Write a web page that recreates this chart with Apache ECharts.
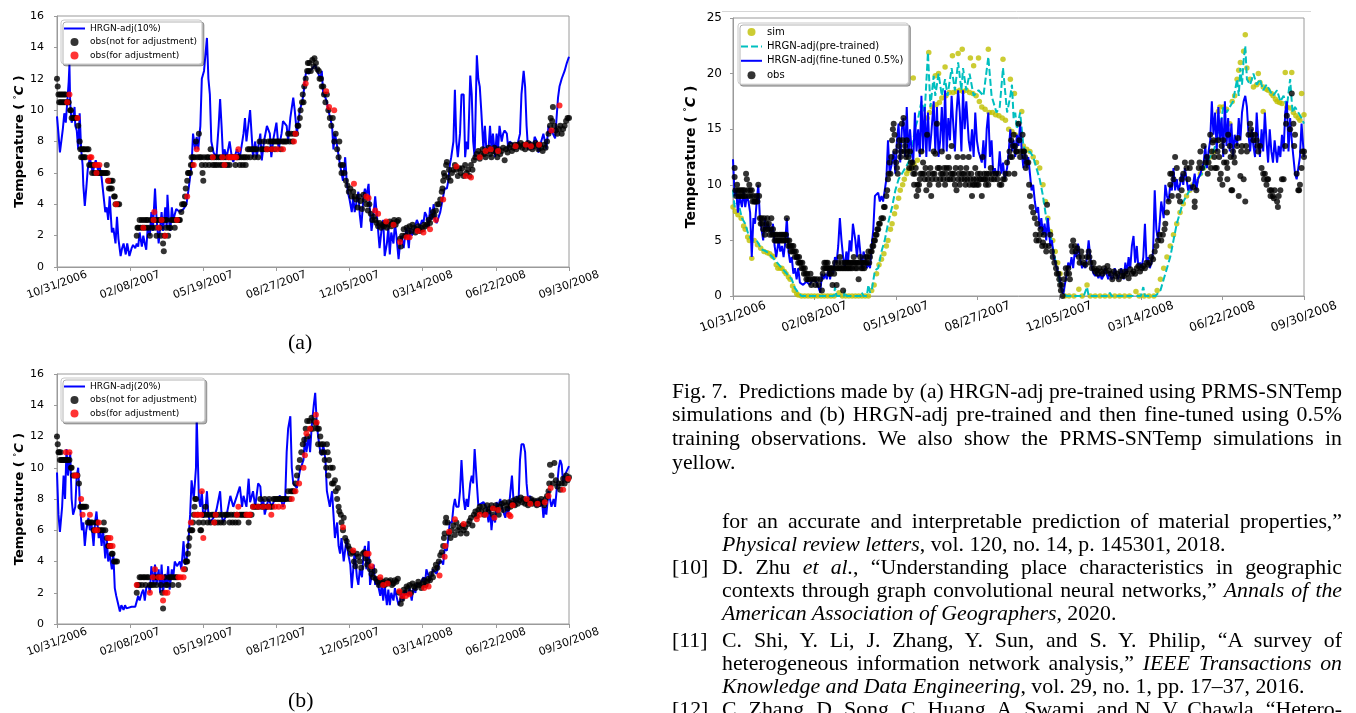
<!DOCTYPE html>
<html><head><meta charset="utf-8">
<script src="https://cdn.jsdelivr.net/npm/echarts/dist/echarts.min.js"></script>
<style>
html,body{margin:0;padding:0;background:#fff;}
body{width:1356px;height:713px;overflow:hidden;position:relative;}
#chart{position:absolute;left:0;top:0;width:1356px;height:713px;}
.ln{position:absolute;font-family:'Liberation Serif','Times New Roman',serif;font-size:21.8px;line-height:23.4px;color:#000;white-space:nowrap;}
.cap{left:672px;}
.ref{left:722px;}
.num{left:672px;}
</style></head><body>
<div id="chart"></div>
<div class="ln" style="left:288px;top:331px;">(a)</div>
<div class="ln" style="left:288px;top:689px;">(b)</div>
<div class="ln cap j" data-w="670" style="top:380px;">Fig. 7.&nbsp; Predictions made by (a) HRGN-adj pre-trained using PRMS-SNTemp</div>
<div class="ln cap j" data-w="670" style="top:403px;">simulations and (b) HRGN-adj pre-trained and then fine-tuned using 0.5%</div>
<div class="ln cap j" data-w="670" style="top:427px;">training observations. We also show the PRMS-SNTemp simulations in</div>
<div class="ln cap" style="top:451px;">yellow.</div>
<div class="ln ref j" data-w="620" style="top:510px;">for an accurate and interpretable prediction of material properties,”</div>
<div class="ln ref" style="top:533px;"><i>Physical review letters</i>, vol. 120, no. 14, p. 145301, 2018.</div>
<div class="ln num" style="top:556px;">[10]</div>
<div class="ln ref j" data-w="620" style="top:556px;">D. Zhu <i>et al.</i>, “Understanding place characteristics in geographic</div>
<div class="ln ref j" data-w="620" style="top:579px;">contexts through graph convolutional neural networks,” <i>Annals of the</i></div>
<div class="ln ref" style="top:602px;"><i>American Association of Geographers</i>, 2020.</div>
<div class="ln num" style="top:629px;">[11]</div>
<div class="ln ref j" data-w="620" style="top:629px;">C. Shi, Y. Li, J. Zhang, Y. Sun, and S. Y. Philip, “A survey of</div>
<div class="ln ref j" data-w="620" style="top:652px;">heterogeneous information network analysis,” <i>IEEE Transactions on</i></div>
<div class="ln ref" style="top:675px;"><i>Knowledge and Data Engineering</i>, vol. 29, no. 1, pp. 17–37, 2016.</div>
<div class="ln num" style="top:698px;">[12]</div>
<div class="ln ref j" data-w="620" style="top:698px;">C. Zhang, D. Song, C. Huang, A. Swami, and N. V. Chawla, “Hetero-</div>
<script>
// justify the paper text lines to their column width
document.querySelectorAll('.j').forEach(el => {
  const target = parseFloat(el.dataset.w);
  const natural = el.getBoundingClientRect().width;
  const spaces = (el.textContent.match(/[ \u00a0]/g) || []).length;
  if (natural < target && spaces) el.style.wordSpacing = ((target - natural) / spaces) + 'px';
  else if (natural > target) { el.style.transformOrigin = '0 0'; el.style.transform = 'scaleX(' + (target / natural) + ')'; }
});
</script>
<script>
// ---------------- data ----------------
const xTickLabels = ['10/31/2006','02/08/2007','05/19/2007','08/27/2007','12/05/2007','03/14/2008','06/22/2008','09/30/2008'];

// (a) HRGN-adj(10%)  [day since 10/31/2006, temperature]
const aLine = [[0,9.6],[2,8.5],[4,7.3],[6,7.4],[8,8.8],[10,9.8],[12,9.2],[14,10.5],[16,11.8],[17,12.9],[18,10.5],[20,9.2],[22,9.5],[24,10.2],[25,9],[27,8.7],[29,7.5],[31,9.8],[33,7.5],[35,6.5],[36,5.2],[38,3.9],[40,5],[42,6.2],[45,7],[47,6.4],[49,6],[51,6.5],[53,6.8],[56,6.2],[58,6.5],[61,5.7],[63,5.8],[66,3.5],[68,3.8],[70,3],[72,4.5],[75,2.2],[77,2.5],[80,1.5],[82,3.2],[84,1.8],[87,0.7],[89,1.2],[91,1.5],[94,0.8],[96,1.5],[99,0.7],[102,1.2],[104,1.4],[107,1.2],[109,1.5],[111,1.3],[113,2.2],[116,1.3],[118,2],[120,1.5],[122,1.1],[124,2.5],[127,2],[129,3.5],[131,2.3],[134,5],[136,3.2],[139,1.5],[141,2.5],[143,3.5],[145,2.3],[148,3.8],[150,2.5],[151,4.6],[153,3],[155,2.3],[157,3.8],[159,3],[163,3.7],[168,3.5],[173,3.7],[177,4],[180,5],[184,6.5],[186,8.5],[189,7.5],[191,8.3],[193,7.5],[196,9],[198,12],[201,12.5],[205,14.6],[207,12],[209,11],[211,8],[214,7.3],[218,7],[221,9],[223,10.7],[225,9],[227,7],[229,7.5],[232,7],[236,8],[239,7],[241,6.7],[246,7.5],[250,7],[255,8.5],[257,9.5],[259,8],[264,10],[266,8.5],[268,7],[271,8],[273,7],[278,8.5],[280,6.8],[283,8],[287,9],[291,8.5],[293,7],[296,8.2],[300,9.2],[303,7.5],[307,8.5],[309,9.3],[314,9],[316,8],[319,9.5],[323,10.8],[325,10],[328,8.5],[332,10],[335,10.5],[337,11],[339,12],[341,12.5],[344,12.3],[346,12.5],[350,12.7],[353,12.9],[355,12.6],[357,12.5],[360,12],[362,12.5],[364,11],[367,10.8],[369,10.5],[371,10],[376,9],[378,7.5],[380,8.5],[382,8],[387,6.5],[389,6.5],[391,5.5],[394,7],[396,5.5],[398,4.7],[400,4.3],[403,3.5],[405,4.5],[407,3.5],[412,4.8],[414,3.3],[416,2.5],[419,4.5],[421,5],[423,4.5],[426,5.3],[428,3.5],[430,2.3],[432,3],[435,4.5],[437,3.5],[439,3.5],[441,1.2],[444,2.5],[446,3],[448,0.7],[451,1.5],[453,2.5],[455,0.8],[457,2.2],[460,1.5],[462,2.8],[464,2],[467,0.5],[469,1.5],[471,2],[474,1.2],[476,2],[478,2.5],[481,1.2],[483,2.5],[485,2],[487,2.2],[492,3],[496,2.5],[499,3],[501,2.8],[503,3.5],[505,3.3],[508,2.5],[510,3.8],[512,3],[515,4],[517,3],[519,2.8],[524,3.5],[528,4.5],[530,5],[533,5],[535,5.5],[537,6.5],[539,7],[542,8],[544,11.3],[546,8],[548,7],[551,8.5],[553,11],[556,11],[558,7],[560,8],[562,7.5],[565,12.2],[567,11],[569,8],[571,7],[574,13.5],[576,12],[578,11.5],[580,10],[583,7.5],[585,9],[587,7.5],[590,7.5],[592,9],[594,7.5],[596,8.5],[599,7],[601,8.5],[603,7.5],[605,9],[608,8],[610,8.5],[612,8.7],[615,8.5],[617,7.5],[619,8],[624,7.8],[628,7.5],[633,8.5],[635,11],[638,12.5],[640,11.5],[642,9],[644,7.5],[647,8],[651,7.5],[653,8.3],[656,8],[658,7.3],[660,7.5],[662,8],[665,8.5],[669,7.5],[672,9],[674,8.5],[676,8.8],[678,8.5],[681,8.2],[683,9.5],[685,10.8],[687,11.5],[690,12],[692,12],[694,12.5],[697,13],[700,13.4]];
const aObs = [[0,12],[1,11.5],[2,11],[3,10.5],[4,11],[5,10.5],[6,11],[7,10.5],[8,11],[9,10.5],[10,11],[11,10.5],[12,11],[13,10.5],[15,10.5],[16,10.5],[18,10],[19,10],[20,9.5],[22,9.5],[23,9.5],[25,9.5],[27,9.5],[29,9],[31,8],[32,7.5],[33,7],[34,7.5],[35,7],[36,7.5],[37,7],[38,7.5],[39,7],[41,7.5],[43,7.5],[44,6.5],[47,6.5],[48,6],[50,6.5],[51,6],[54,6],[55,6],[57,6],[58,6],[60,6],[61,6],[63,6],[65,6],[67,6],[68,6.5],[69,6],[70,5.5],[71,5],[72,5.5],[73,5],[74,5.5],[75,5],[76,5.5],[78,4.5],[79,4.5],[80,4],[83,4],[85,4],[109,2],[110,2.5],[111,2.5],[113,3],[114,2.5],[116,3],[117,2.5],[119,3],[120,2.5],[122,3],[123,2.5],[124,3],[126,2.5],[127,2],[128,3],[130,2.5],[132,3],[134,2.5],[135,3],[136,2],[138,3],[140,3],[141,2.5],[142,2],[144,3],[145,1.5],[146,1],[147,2],[148,3],[149,2.5],[150,3],[152,2],[153,2.5],[155,2.5],[156,3],[158,3],[160,3],[161,2.5],[163,3],[165,3],[167,3],[168,3],[170,3.5],[171,4],[173,4],[174,4],[175,4.5],[176,5],[178,5.5],[179,6],[180,6],[182,6],[183,6.5],[184,7],[185,6.5],[186,7],[188,7],[190,8],[192,7],[194,8.5],[195,7],[197,7],[198,6.5],[199,6],[200,5.5],[201,7],[203,6.5],[205,7],[207,7],[208,6.5],[210,7.5],[211,7],[213,6.5],[215,7],[216,6.5],[218,7],[219,6.5],[221,7],[223,6.5],[224,7],[226,6.5],[228,7],[230,6.5],[231,7],[233,6.5],[235,7],[236,6.5],[238,7],[240,7],[242,7],[244,6.5],[246,7],[247,7],[249,7],[250,6.5],[252,7],[254,6.5],[255,7],[257,7],[258,6.5],[260,7],[261,7.5],[263,7.5],[264,7],[266,7.5],[268,7.5],[270,7],[271,7.5],[273,7.5],[275,7],[277,8],[279,7.5],[281,7.5],[283,8],[285,7.5],[288,7.5],[289,8],[292,8],[293,7.5],[295,8],[297,8],[298,7.5],[300,8],[302,8],[304,8],[306,7.5],[308,8],[310,8],[312,8],[314,8],[316,8.5],[318,8],[320,8.5],[322,8],[324,8.5],[327,8.5],[329,9],[330,9],[332,9.5],[333,10],[335,10.5],[336,11],[337,10.5],[338,11.5],[340,12],[342,12.5],[343,13],[344,12.5],[345,13],[347,12.5],[349,13.2],[351,12.8],[352,13.3],[354,13],[356,12.6],[358,12.5],[359,12],[361,12],[362,11.5],[364,11.5],[365,11],[367,10.5],[369,11],[371,10],[373,9.5],[375,9],[377,9.5],[379,8],[381,8.5],[383,7.5],[385,7],[386,8],[388,6.5],[389,6],[391,6.5],[393,6],[395,5.5],[397,5.2],[399,4.8],[401,5],[403,4.5],[405,4.8],[407,4.5],[409,4.3],[411,3.8],[413,4.5],[415,4.2],[417,3.7],[419,4.6],[421,4.3],[423,4],[425,3.6],[427,4],[429,3.4],[431,3],[433,3.2],[435,3],[437,2.8],[439,2.6],[441,2.8],[443,2.5],[445,2.7],[447,2.6],[449,2.8],[451,2.5],[453,2.7],[455,2.9],[457,2.6],[459,2.8],[461,3],[463,2.7],[465,2.9],[467,3],[469,1.8],[470,1.3],[472,2],[474,2.4],[476,2],[478,2.5],[480,2.2],[482,2.6],[484,2.3],[486,2.7],[488,2.5],[490,2.2],[492,2.4],[494,2.6],[496,2.3],[498,2.5],[500,2.4],[502,2.7],[504,2.6],[506,2.7],[508,3],[510,2.8],[512,3.2],[514,3.5],[516,3.3],[518,3.6],[520,4],[522,4],[524,4.3],[526,4.8],[527,5],[528,5.5],[529,6],[530,5.8],[532,6.5],[533,6.7],[535,5.7],[536,6.2],[538,5.5],[540,6],[542,6.2],[544,6.5],[546,6.2],[548,5.8],[550,6.3],[552,6],[554,6.3],[556,5.8],[558,6.5],[560,6],[562,6.2],[564,5.8],[566,6.5],[568,6.2],[570,6.8],[572,7],[574,7.2],[576,7.4],[578,6.9],[580,7.2],[582,7.5],[584,7.2],[586,7],[588,7.4],[590,7.6],[592,7.2],[594,7],[596,7.4],[598,7.6],[600,7.3],[602,7],[604,7.5],[606,7.2],[608,7.4],[610,7.6],[612,6.8],[614,7.5],[616,7.3],[618,7.6],[620,7.8],[622,7.4],[624,7.6],[626,7.8],[628,7.5],[630,7.8],[632,7.7],[634,7.9],[636,7.6],[638,7.8],[640,7.5],[642,7.8],[644,7.9],[646,7.6],[648,7.8],[650,7.5],[652,7.7],[654,7.9],[656,7.8],[658,7.5],[660,7.8],[662,7.6],[664,7.4],[666,7.8],[668,7.6],[670,8],[672,8.5],[674,9],[675,9.5],[677,9.3],[678,10.2],[680,9],[682,8.7],[684,8.5],[686,8.8],[688,9],[690,8.5],[692,8.8],[694,9],[696,9.3],[698,9.5],[700,9.5]];
const aAdj = [[14,10.5],[17,11],[28,9.5],[45,7],[47,7],[52,6.5],[55,6.5],[58,6.5],[54,6],[70,5.5],[81,4],[118,2.5],[132,3],[133,3.5],[139,2.5],[143,3],[148,2],[164,3],[178,4.5],[187,6.5],[191,7.5],[213,7],[226,7],[229,6.5],[234,7],[237,7],[240,7],[243,7],[245,7],[248,7.5],[287,7.5],[294,7.5],[301,7.5],[309,7.5],[324,8],[326,8.5],[340,11.7],[368,11.2],[372,10.2],[379,10],[406,5.3],[423,4.5],[426,4.4],[435,3.6],[439,3.4],[450,2.9],[460,2.7],[469,1.6],[478,1.9],[482,1.9],[493,2.3],[501,2.2],[510,2.4],[518,3],[528,4.3],[546,6.4],[559,5.8],[566,5.7],[578,7],[586,7.4],[593,7.5],[603,7.4],[627,7.7],[641,7.8],[648,7.7],[659,7.8],[676,8.7],[687,10.3]];

// (b) HRGN-adj(20%)
const bLine = [[0,9.7],[2,7],[4,5.9],[7,7.5],[9,9.5],[11,8],[13,11.2],[15,9.5],[18,11],[20,8],[22,7],[25,7.5],[27,9.5],[29,10],[31,8],[34,6],[36,6.5],[38,5],[40,6],[43,6.8],[45,6],[47,6.5],[50,5],[52,6.5],[54,7.2],[57,5.5],[59,6],[61,5],[63,6],[66,4.2],[68,5.5],[70,4],[72,4.5],[75,3.5],[77,4.5],[79,2.3],[81,1.8],[84,1.2],[86,0.8],[88,1.2],[91,0.9],[93,1.2],[95,1],[97,0.9],[102,1.1],[107,1.1],[109,1.2],[111,1.8],[113,1.5],[116,2],[118,2.2],[120,1.5],[122,2.3],[125,2.5],[127,2],[129,3.7],[132,2.5],[134,3.8],[136,2.5],[139,3.5],[141,2],[143,3.8],[145,2],[148,3.2],[150,2.5],[152,3.7],[154,2.2],[157,3.5],[159,3],[161,4],[164,3.7],[166,3.8],[168,4],[170,3.5],[173,5.3],[175,3.8],[177,4],[180,5.5],[182,7],[184,9.2],[187,8],[189,8],[190,10],[191,13.3],[194,8],[196,7.5],[198,8.5],[200,6.8],[203,7.3],[205,8.5],[207,7],[209,6.5],[214,6.8],[218,7.3],[223,8.5],[225,7],[227,6.5],[232,7],[237,8.2],[241,7.5],[246,8.2],[250,8.8],[253,7.5],[255,8.2],[259,7.5],[262,9.3],[264,7.8],[268,8.5],[271,7.5],[275,9],[278,8.8],[280,7.5],[282,8],[284,7],[289,8],[294,7.5],[296,7.8],[300,8],[305,8.2],[309,7.5],[312,8],[314,11],[316,12.5],[319,13.3],[321,10],[323,9],[328,8.7],[332,9.8],[337,10.5],[339,12],[341,11],[344,12],[346,11],[348,12.5],[351,14],[353,14.8],[355,13],[357,12],[360,11],[362,10.8],[364,11.5],[367,10.5],[369,8.5],[371,8],[373,7.5],[376,8.5],[378,7],[380,5.5],[383,6.5],[385,5],[387,4.5],[389,5.5],[392,4],[394,4],[396,5.5],[398,4.5],[401,3.8],[403,2.3],[405,3.5],[407,4.7],[410,3],[412,2.5],[414,3.5],[417,3],[419,4.5],[421,5],[423,3.5],[426,5.3],[428,2.5],[430,3],[433,3.8],[435,2.5],[437,3],[439,2.5],[442,1.8],[444,2.5],[446,1.5],[448,2.5],[451,1.2],[453,2.2],[455,1.2],[457,2],[460,1.5],[462,2.3],[464,1.8],[467,1.2],[469,1.5],[471,2],[473,1.5],[476,2.2],[480,1.8],[482,2.3],[485,1.5],[487,2.3],[490,2],[492,2.6],[496,2.5],[501,3],[503,2.5],[505,3.5],[510,2.8],[514,3.5],[519,3.2],[523,4],[526,4],[528,3.8],[530,4.8],[533,4.7],[535,5.5],[537,6.5],[540,6.5],[542,7.5],[544,8],[546,7.5],[549,7.5],[551,8.5],[553,10.5],[556,8],[558,7.3],[560,8],[562,7.5],[565,9],[567,9.5],[569,9],[571,11.2],[574,9],[576,7.6],[578,7.7],[583,7.8],[587,7.5],[590,6.5],[592,7.5],[594,6],[596,7],[599,6.5],[601,7.8],[603,7.5],[606,8],[610,7.2],[613,6.8],[615,7.5],[617,7],[620,8.5],[622,9.5],[624,8],[626,7.5],[629,8.2],[631,7.8],[633,10.5],[635,11.5],[638,11.5],[640,11],[642,9],[644,8],[647,8.2],[649,7.8],[651,8],[656,7.5],[658,8],[660,7.5],[663,8],[665,6.8],[667,7.5],[669,7],[672,8.5],[674,8],[676,7.5],[679,8],[681,7.5],[683,8.5],[686,10],[688,10.5],[690,10.2],[692,9],[694,9.5],[697,9.8],[700,10.1]];
const bObs = [[0,12],[1,11.5],[2,11],[3,11],[4,10.5],[5,11],[6,10.5],[7,10.5],[9,10.5],[10,10.5],[12,10.5],[14,10.5],[15,10.5],[17,10.5],[19,10],[20,10],[22,9.5],[25,9.5],[28,9.5],[30,9],[32,7.5],[33,7.5],[35,7.5],[36,7.5],[38,7.5],[40,7.5],[42,6.5],[44,6.5],[46,6.5],[48,6.5],[50,6],[52,6],[53,6.5],[55,6.5],[57,6],[59,6],[61,6],[63,6],[64,6.5],[66,6],[68,5.5],[70,5],[71,5],[73,5],[75,4.5],[76,4.5],[78,4],[80,4],[82,4],[109,2],[110,2.5],[112,2.5],[113,3],[115,3],[116,2.5],[118,3],[120,3],[121,2.5],[123,3],[125,3],[127,2.5],[129,2.5],[132,2.5],[134,3],[136,2.5],[137,3],[140,3],[142,2.5],[144,2],[145,1],[147,3],[149,2.5],[151,2.5],[153,3],[155,3],[157,3],[158,2.5],[160,3],[162,3],[164,3],[166,2.5],[175,3.5],[176,4],[177,4],[178,4],[179,4.5],[180,5],[181,5.5],[182,6],[184,6],[185,6],[186,6.5],[187,7],[188,7.5],[189,8],[190,8],[192,7],[194,6.5],[196,6],[197,6],[199,7],[200,6.5],[202,7],[203,7.5],[205,7],[206,6.5],[208,7],[210,6.5],[212,7],[214,7],[216,6.5],[218,7],[220,6.5],[222,7],[224,6.5],[226,7],[228,6.5],[230,7],[232,7],[234,7],[236,6.5],[238,7],[240,6.5],[242,7],[244,6.5],[246,7],[248,6.5],[250,7],[252,7],[254,7],[256,7],[258,7],[260,7],[262,6.5],[264,7],[266,7],[268,7.5],[270,7.5],[272,7.5],[274,7.5],[276,7.5],[278,8],[280,7.5],[282,7.5],[284,8],[286,7.5],[288,7.5],[290,8],[292,7.5],[294,7.5],[296,8],[298,8],[300,8],[302,8],[304,8],[306,8],[308,8],[310,8],[312,8],[314,8],[316,8.5],[318,8],[320,8.5],[322,8.5],[324,8.5],[326,9],[328,9.5],[330,10],[332,10.5],[334,11],[336,11.5],[338,11.8],[340,12.5],[342,13],[343,12],[345,13],[347,12.5],[348,13.2],[350,12.5],[352,13],[354,12.8],[356,12.5],[357,11.5],[358,12.5],[360,12],[361,11.5],[362,11],[364,11.5],[365,11],[366,10.5],[368,10],[369,11.5],[370,11],[371,9.5],[372,10.5],[374,10],[376,9],[377,10],[378,9],[380,9.2],[381,8.5],[383,8],[384,8.7],[385,7.5],[386,7.2],[388,7],[389,6.5],[391,6],[392,6.8],[394,5.5],[396,5.3],[398,5],[400,4.8],[402,4.5],[404,4.6],[406,4],[408,3.7],[410,4.5],[412,4.3],[414,4],[416,3.6],[418,4.5],[420,4.6],[422,4.2],[424,3.8],[426,4],[428,3.5],[430,3.2],[432,3],[434,3.4],[436,2.9],[438,2.7],[440,2.5],[442,2.8],[444,2.6],[446,2.7],[448,2.5],[450,2.8],[452,2.6],[454,2.7],[456,2.8],[458,2.5],[460,2.6],[462,2.8],[464,2.7],[466,2.9],[468,2],[470,1.3],[472,1.6],[474,2.2],[476,2],[478,2.4],[480,2.3],[482,2.5],[484,2],[486,2.6],[488,2.4],[490,2.3],[492,2.5],[494,2.7],[496,2.5],[498,2.3],[500,2.6],[502,2.8],[504,2.5],[506,2.7],[508,2.9],[510,2.8],[512,3.2],[514,3],[516,3.5],[518,3.8],[520,3.6],[522,4],[524,4.4],[526,4.6],[528,5],[529,5.5],[530,5.8],[531,6.5],[532,6.8],[534,6.5],[536,5.8],[538,5.5],[540,6],[542,6.3],[544,5.7],[546,6.5],[548,6],[550,6.2],[552,5.8],[554,6.3],[556,6],[558,6.2],[560,5.8],[562,6.4],[564,6.6],[566,6.8],[568,6.3],[570,7],[572,7.2],[574,6.9],[576,7.3],[578,7.5],[580,7.2],[582,7.5],[584,7],[586,7.3],[588,7.6],[590,7.2],[592,7.4],[594,7.6],[596,7],[598,7.4],[600,7.6],[602,7.3],[604,7],[606,7.5],[608,7.7],[610,7.3],[612,7.8],[614,7.6],[616,7.4],[618,7.8],[620,7.5],[622,7.7],[624,7.9],[626,7.6],[628,8],[630,7.7],[632,7.9],[634,8.1],[636,7.8],[638,8],[640,7.7],[642,7.9],[644,7.6],[646,7.8],[648,8],[650,7.7],[652,7.9],[654,7.8],[656,7.6],[658,7.9],[660,7.7],[662,8],[664,7.8],[666,7.6],[668,8],[670,8.2],[672,8.5],[673,9],[674,10.2],[676,9.5],[678,9],[680,10.3],[682,9.2],[684,8.8],[686,9],[688,8.6],[690,9],[692,9.3],[694,9],[696,9.5],[698,9.2],[700,9.4]];
const bAdj = [[12,11],[17,11],[24,9.5],[27,9.5],[33,8],[35,7],[45,7],[52,6],[55,6],[57,6.5],[70,5.5],[73,5.5],[72,5],[76,5],[109,2.5],[127,2],[131,3],[134,3.5],[139,3],[143,3],[145,1.5],[148,2],[151,2],[166,3],[169,3],[173,3],[173,3.5],[183,6.5],[189,7],[198,8.5],[200,5.5],[193,7],[197,7],[215,6.5],[217,7],[246,7],[248,7.5],[259,7],[262,7],[264,7],[268,7.5],[275,7.5],[282,7.5],[289,7.5],[293,7],[298,7.5],[303,7.5],[309,7.5],[321,8],[326,8.5],[331,9],[337,10],[339,10.8],[341,12.2],[346,12.5],[354,13.4],[355,12.9],[391,6.2],[405,4.7],[423,4.5],[426,4.5],[430,3.7],[442,3],[446,2.5],[452,2.6],[468,2.1],[472,1.8],[477,1.8],[482,1.9],[502,2.3],[508,2.4],[523,3.1],[530,4.3],[531,5],[536,5.9],[544,6.7],[556,6.4],[574,6.7],[578,7],[586,7],[596,7.4],[598,6.8],[603,7.3],[618,7],[620,6.9],[623,7.6],[642,8],[647,7.7],[657,7.7],[667,7.8],[672,8.2],[675,8.7],[692,8.6],[699,9.3]];

// (c) sim, pre-trained, fine-tuned 0.5%, obs
const cSim = [[0,8],[3,7.6],[6,7.3],[10,7],[13,6.3],[15,6],[18,5.3],[20,5],[23,3.4],[26,5],[30,4.6],[34,4.3],[38,4],[42,3.9],[45,3.8],[48,3.6],[50,3.5],[53,2.8],[55,2.5],[58,2.5],[60,2.5],[63,2.2],[65,2],[68,1.7],[70,1.5],[73,0.9],[75,0.5],[78,0.2],[80,0.1],[84,0],[88,0],[92,0],[96,0],[100,0],[104,0],[108,0],[112,0],[116,0],[120,0],[124,0],[130,0.3],[134,0],[138,0],[142,0],[146,0],[150,0],[154,0],[158,0],[162,0],[166,0],[170,0.5],[173,1],[176,2],[179,2.8],[182,3.3],[185,3.8],[188,4.5],[190,5],[193,6],[195,6.5],[198,7.4],[200,8],[203,8.8],[205,9.5],[208,10],[210,10.5],[213,11],[215,11.3],[218,11.5],[221,19.6],[222,11.8],[226,12.2],[230,13],[234,14.5],[238,16],[240,21.9],[241,16.5],[244,17],[248,19.8],[249,17.2],[252,20],[253,17.4],[256,17.8],[260,20.6],[261,18],[265,18.3],[269,21.6],[270,18.3],[274,18.4],[276,21.8],[278,18.5],[281,22.2],[282,18.4],[286,18.5],[290,18.3],[291,21.4],[294,18.2],[295,20.7],[298,18],[301,21.4],[302,17.5],[305,17],[309,16.8],[313,22.2],[314,16.5],[318,16.5],[322,16.3],[326,16.2],[330,16],[331,21.3],[334,15.8],[338,15],[340,19.5],[342,14.8],[345,18.2],[346,14.5],[350,14],[354,16.6],[356,13.5],[360,13.2],[364,13],[368,12.5],[372,12],[376,11.5],[380,10],[383,8.5],[386,7],[389,5.8],[392,5],[395,4],[398,3],[401,2],[404,0.5],[407,0],[412,0],[418,0],[424,0.6],[428,0],[434,1],[438,0],[444,0],[450,0],[456,0],[462,0],[468,0],[474,0],[480,0],[486,0],[494,0.4],[498,0],[504,0],[510,0],[516,0],[520,0.5],[524,1.5],[528,2.5],[532,3.5],[536,4.5],[540,5.5],[544,6.5],[548,7.5],[552,8.3],[556,9],[560,9.5],[564,10],[568,10.3],[573,11],[577,11.5],[581,12],[585,12.5],[589,13],[593,14],[595,16.6],[597,17],[601,17],[605,16.8],[609,15.5],[612,17.5],[615,18],[618,19.5],[620,20.3],[622,21],[626,22],[628,23.5],[630,20.5],[634,19.5],[638,18.8],[642,19],[644,20],[646,19.2],[650,18.8],[650,16.6],[654,18.6],[656,18.5],[660,18.2],[662,18],[665,17.7],[667,17.5],[670,17.4],[673,17.3],[677,20.1],[679,17],[683,16.9],[685,20.1],[687,16.5],[690,16.2],[693,16],[695,15.8],[697,18.2],[700,16.3]];
const cPre = [[0,9.5],[2,8],[6,8.5],[11,7],[15,6.5],[19,5.5],[23,5],[29,5],[35,4.2],[41,4],[47,3.6],[54,3],[60,2.5],[66,2],[72,1.5],[76,0.7],[80,0.3],[84,0],[95,0],[110,0],[124,0],[125,0.8],[127,0],[136,0],[137,0.5],[139,0],[157,0],[158,0.3],[160,0],[164,0],[166,1],[168,0.3],[170,0.5],[174,2.3],[178,2.5],[182,4],[186,5],[190,6.5],[195,8],[199,9.5],[203,10.5],[207,11],[211,11.5],[215,12],[219,13],[223,15],[227,16],[231,17.5],[235,16.5],[239,21.9],[242,17],[246,19.8],[248,18],[252,20],[256,18],[260,19.5],[263,18],[268,20.5],[272,18.5],[276,21],[280,18.5],[282,20.5],[286,18.5],[290,20],[295,18],[301,18.5],[307,18],[313,21.5],[317,18],[323,16.5],[327,17],[331,20.5],[336,16.5],[340,18],[342,19],[344,16],[346,16.5],[348,15],[352,16.5],[356,13.5],[360,12.8],[364,13],[368,12.5],[372,11.5],[376,10.5],[380,9],[384,7],[389,5.5],[393,4],[397,2.5],[401,1],[405,0.2],[409,0],[430,0],[434,0.8],[436,0],[460,0],[462,0.3],[464,0],[500,0],[503,0.8],[505,0],[518,0],[524,0.5],[528,1.5],[532,2.5],[536,3.5],[540,5],[544,6.5],[548,7.5],[552,8.5],[556,9],[562,9.8],[568,10.5],[575,11],[581,12],[585,12.5],[589,13],[593,14],[597,15],[601,17],[605,16.5],[609,17],[613,17.5],[618,19.5],[620,18],[622,20.5],[624,19],[626,21.2],[628,22.5],[630,19.5],[634,19],[638,20],[642,19],[646,19.5],[650,18.5],[654,19],[658,18.5],[662,18],[667,18.5],[671,17.5],[675,18],[679,17],[683,19.5],[686,16.5],[689,17],[693,16.5],[697,16],[700,15.5]];
const cFine = [[0,12.3],[2,9],[4,9.5],[6,7.5],[8,9],[11,8],[13,9.5],[15,8],[17,9],[19,8.5],[21,7.5],[23,3.5],[25,7],[27,6.5],[29,8.5],[31,10],[33,7],[35,6],[37,5],[39,7],[41,6],[43,6.5],[47,5.5],[49,6.5],[51,4.5],[53,3.5],[56,5],[58,4],[60,4.5],[62,3.5],[64,4.8],[66,7],[68,4],[70,3],[72,3.5],[74,2],[76,2.5],[78,1.5],[80,2.5],[82,1.2],[86,1],[90,1.3],[94,1],[98,1.5],[103,1.2],[107,0.3],[109,2],[111,1.5],[113,2],[115,1.5],[117,2.5],[119,1.5],[121,2.5],[123,2],[125,3.5],[127,3],[129,4.5],[131,7],[133,5],[135,3.5],[137,2.5],[139,4],[141,3],[143,5],[145,4],[147,6.5],[150,5],[152,3.5],[154,5.5],[156,4],[158,2.5],[160,4],[162,3.5],[164,2.5],[166,3],[168,2.5],[170,4.5],[172,6],[174,9],[176,9],[178,9.3],[180,8.5],[182,9],[184,8.5],[186,9.5],[188,10.5],[190,14],[192,11],[195,12],[197,13],[199,11],[201,14],[203,15.5],[205,12],[207,15],[209,16],[211,12.5],[213,17],[215,12.5],[217,15],[219,13],[221,12],[223,16.5],[225,13],[227,15],[229,12.5],[231,18],[233,13],[235,17],[237,12.5],[239,16.5],[241,13],[243,14.5],[246,17.5],[248,13],[250,17],[252,12.5],[254,14],[256,17],[258,13],[260,18.5],[262,13],[264,16],[266,14],[268,18],[270,15.5],[272,13],[274,16.5],[276,18.5],[278,16.5],[280,13],[282,18.5],[284,15],[286,17.5],[289,14],[291,13],[293,15],[295,12.5],[297,16.5],[299,14],[301,13],[303,12.5],[305,12],[307,14],[309,11.5],[311,15],[313,16.5],[315,12.5],[317,14],[319,11],[321,11.5],[323,10.8],[325,11],[327,13],[329,11],[331,12],[333,10.5],[336,11.5],[338,13],[340,15],[342,13],[344,14],[346,12.5],[348,14.5],[350,13.5],[352,15.5],[354,13],[356,11.5],[358,13],[360,11.5],[362,12.5],[364,11],[366,9.5],[368,10],[370,8.5],[372,7.5],[374,8],[376,6],[378,7],[380,5.5],[382,6.5],[384,5],[386,7],[389,4.5],[391,5],[393,3.5],[395,3],[397,2.5],[399,2],[401,1.5],[403,0.5],[405,0.2],[407,0.3],[409,2],[411,3],[413,2.5],[415,3.5],[417,2.5],[419,4],[421,3.5],[423,4.7],[425,3.5],[428,2.5],[430,3],[432,2.5],[434,3.5],[436,5],[438,3.5],[440,2.5],[442,2],[444,1.8],[446,2],[448,1.6],[450,2],[452,1.5],[454,1.8],[456,2.5],[458,2],[460,1.5],[462,2.2],[464,1.5],[466,1.7],[468,2.5],[470,2],[472,1.5],[474,2],[476,2.5],[479,1.5],[481,3],[483,2],[485,3.5],[487,2.5],[489,4.5],[491,5.4],[493,3],[495,4.5],[497,2.5],[499,3],[501,2.5],[503,3.5],[505,6.5],[507,3],[509,3.5],[511,2.5],[513,3],[515,4],[517,9.5],[519,6],[521,5],[523,6.5],[525,8.5],[528,7],[530,10],[532,9],[534,8.5],[536,10],[538,9.5],[540,11.5],[542,9.5],[544,10.5],[546,9.5],[548,10],[550,11],[552,10],[554,11.5],[556,10.5],[558,9.5],[560,10],[562,9.5],[564,10],[566,11],[568,9.5],[570,10.5],[573,11],[575,11.5],[577,12],[579,13.5],[581,11.5],[583,13],[585,14],[587,17.5],[589,14.5],[591,16.5],[593,13],[595,17],[597,14],[599,16],[601,12.5],[603,17.5],[605,13.5],[607,16],[609,13],[611,15.5],[613,12.5],[615,14.5],[618,13.5],[620,16],[622,14],[624,16.5],[626,17.5],[628,18],[630,17],[632,14.5],[634,13],[636,15],[638,13.5],[640,12.5],[642,16.5],[644,14],[646,12.5],[648,15],[650,13],[652,16.5],[654,14],[656,12],[658,15],[660,13],[662,12],[664,14],[667,12],[669,13.5],[671,12.5],[673,14.5],[675,13],[677,16.5],[679,17.5],[681,13],[683,16],[685,14],[687,12.5],[689,11],[691,10.5],[693,11.5],[695,12.5],[697,15.5],[700,12.5]];
const cObs = [[2,11.5],[2,10.7],[3,9.5],[4,9],[5,10],[6,9.5],[7,9],[8,9.5],[9,9],[10,9.5],[11,9],[12,9.5],[13,9],[14,9.5],[15,9],[16,11],[17,10.5],[18,9.5],[19,9],[20,10],[21,9.5],[22,9],[23,9.5],[24,8.5],[25,9],[26,8.5],[27,8.5],[28,8.5],[29,9],[30,8.5],[31,10],[32,9],[33,7],[34,6.5],[35,7],[36,6.5],[37,6],[38,7],[39,5.5],[40,6],[41,6.5],[42,7],[43,6],[44,6.5],[45,5.5],[46,6],[47,7],[48,5.5],[49,6],[50,5.5],[51,5],[52,5.5],[53,5],[54,5.5],[55,5],[56,5],[57,5.5],[58,5],[59,5.5],[60,5],[61,5.5],[62,5],[63,5.5],[64,5],[65,5.5],[66,7],[67,5],[68,4.5],[69,5],[70,4.5],[71,4],[72,4.5],[73,4],[74,4.5],[75,4],[76,3.5],[77,4],[78,3.5],[79,3.5],[80,3],[81,3.5],[82,3],[83,3],[84,2.5],[85,3],[86,2.5],[87,2],[88,2.5],[89,2],[90,1.5],[91,2],[92,1.5],[94,1.5],[95,2],[96,1],[98,1.5],[100,1.5],[101,1],[103,1.5],[105,1],[107,1.5],[109,0.5],[110,2],[111,2.5],[112,3],[113,2.5],[114,3],[115,2.5],[116,3],[117,2.5],[118,2],[119,2.5],[120,2],[121,2.5],[122,1],[123,2.5],[124,2],[125,3],[126,2.5],[127,1],[128,2.5],[129,3],[130,2.5],[131,3.5],[132,2.5],[133,3],[134,2.5],[135,0.5],[136,2.5],[137,3],[138,2.5],[139,3],[140,2.5],[141,3],[142,2.5],[143,3],[144,2.5],[145,3],[146,2.5],[147,3],[148,3.5],[149,3],[150,2.5],[151,3],[152,2.5],[153,3],[154,1.5],[155,3],[156,3.5],[157,2.5],[158,3],[159,2.5],[160,3],[161,2.5],[162,3],[163,3.5],[164,3],[165,3.5],[166,4],[167,3],[168,3.5],[169,4],[170,4],[171,4.5],[172,4.5],[173,5],[174,5],[175,5.5],[176,5.5],[177,6],[178,6],[179,6.5],[180,6.5],[182,7],[184,7],[185,8],[186,8],[188,9],[189,9.5],[190,10.5],[191,11],[192,12],[193,11],[194,12.5],[195,14],[196,15],[197,15.5],[198,14.5],[199,13],[200,12],[201,11.5],[202,11],[203,13.5],[204,14],[205,12.5],[206,13],[207,15.5],[208,14],[209,16],[210,13],[211,13.5],[212,12.5],[213,14],[214,13],[215,12.5],[216,11.5],[217,13],[218,12],[219,11.5],[220,12],[221,11],[222,10],[223,11],[224,11.5],[225,9],[226,10],[227,9.5],[228,10],[229,10.5],[230,11],[231,13],[232,11],[233,12],[234,11],[235,10.5],[236,11.5],[237,9.5],[238,14.5],[239,10.5],[240,11],[241,10],[242,11.5],[243,9],[244,10.5],[245,11],[246,13],[247,11],[248,12.8],[249,10.5],[250,15.5],[251,11.5],[252,10],[253,11.5],[254,10.5],[255,11],[256,13],[257,11],[258,10.5],[259,11.5],[260,10],[261,11],[262,11.5],[263,10.5],[264,12.5],[265,11.5],[266,10.5],[267,11],[268,13.5],[269,11],[270,10.5],[271,11],[272,10],[273,11.5],[274,9.5],[275,12.5],[276,10.5],[277,11],[278,10],[279,11.5],[280,10.5],[281,11],[282,12.5],[283,11],[284,10.5],[285,10],[286,11.5],[287,10.5],[288,11],[289,12.5],[290,10],[291,10.5],[292,11],[293,9],[294,10],[295,10.5],[296,10],[297,11.5],[298,10.5],[299,10],[300,11],[301,10],[302,10.5],[303,11],[304,10.5],[305,9],[306,12.5],[307,10.5],[308,11],[309,10.5],[310,10],[311,11],[312,10.5],[313,10],[314,11],[316,11.5],[317,10.5],[318,11],[320,10.5],[322,11],[324,10.5],[325,11],[327,10],[329,10],[331,10.5],[333,10.5],[334,11],[336,12],[338,11],[339,13],[340,12.5],[341,14],[342,12.5],[343,13.5],[344,14.5],[345,11],[346,13.5],[347,13],[348,13],[350,15.5],[351,14],[352,12.5],[353,13],[355,14.5],[356,13],[357,13],[358,12.5],[359,11.5],[360,12],[362,12],[363,10],[364,9],[366,8],[368,7.5],[370,7],[371,5.5],[372,5],[373,6.5],[375,5],[376,5.5],[377,6],[379,4.5],[380,4.8],[381,5.5],[383,4.5],[384,4],[385,8.2],[387,4.5],[389,5.5],[391,4],[392,3.5],[394,3],[396,2.5],[397,2],[399,2],[400,1.5],[401,1],[402,0.5],[403,1],[404,0],[406,1.5],[408,2.5],[409,2],[411,2.5],[412,2],[413,1.5],[415,4.5],[416,4],[417,5],[419,4.5],[420,4],[422,4.3],[424,3.5],[425,3],[427,4],[428,3.5],[430,3],[432,2.8],[434,3.5],[436,4],[437,3.5],[438,3],[440,2.5],[442,3],[443,2.5],[444,2.2],[446,2.3],[447,2],[449,2.5],[451,2.2],[453,2],[455,2.5],[457,2.2],[459,2.7],[461,2.3],[463,2],[465,1.5],[467,2.2],[469,1.8],[471,2],[473,1.5],[475,2.2],[477,1.8],[479,1.8],[481,2.2],[483,2],[485,1.6],[487,2.4],[489,2],[491,2.2],[493,2],[495,2.5],[497,2.7],[499,2.2],[501,2.5],[503,2.7],[505,2.5],[507,3],[509,2.8],[511,3],[513,3.5],[515,3.3],[517,4],[519,4.5],[521,5],[523,5.5],[525,5],[527,5.5],[529,6],[530,6.5],[532,7.5],[534,8.5],[536,10],[536,11],[538,11],[538,9],[540,10.5],[542,12.5],[544,11.5],[546,9],[548,8.5],[550,10.5],[550,9.5],[552,11],[554,12],[556,11.5],[558,10.5],[560,11.5],[562,12],[564,9.8],[566,8.5],[566,8],[568,9.5],[571,11.5],[572,12],[573,13],[575,11.5],[577,13.5],[579,12],[581,12.5],[582,11],[583,12],[585,14.5],[586,11.5],[587,13],[588,13.8],[589,14],[590,12.5],[591,11.5],[593,11.5],[594,13],[595,14],[596,12.5],[597,10.5],[598,11],[599,13.5],[600,10],[601,14],[602,12],[603,13],[605,12],[606,11.5],[606,10.5],[607,14.5],[609,13.5],[610,12.5],[611,9.5],[612,9.5],[613,13],[614,12.5],[615,12],[618,13.5],[619,14.2],[620,9],[622,10.8],[623,13],[624,13.5],[626,10.5],[628,8.5],[629,13.5],[630,13],[632,14.5],[634,15.5],[635,15],[636,14.5],[638,14],[640,14.5],[642,14],[643,13.5],[644,13],[646,13.5],[648,11.5],[650,11],[651,10.5],[652,11],[654,10],[655,10.5],[656,10.5],[658,9.5],[659,9],[660,9.5],[662,9],[663,8.8],[664,9.5],[667,8.5],[668,8],[669,9],[671,9.5],[673,10.5],[675,10.5],[677,13.5],[678,15.5],[679,16.2],[683,15],[685,18.2],[687,15.5],[688,13.5],[689,14.5],[691,11],[693,9.5],[694,9.5],[695,10],[697,11.5],[698,13],[700,12.5],[700,13]];

// ---------------- chart ----------------
const FONT = "'DejaVu Sans', sans-serif";
const FRAME = '#9a9a9a';
function xAx(gi, fs, margin) {
  return {type:'value', gridIndex:gi, min:0, max:700, interval:100,
    axisLine:{show:true, lineStyle:{color:FRAME}}, splitLine:{show:false},
    axisTick:{show:true, length:4, lineStyle:{color:FRAME}},
    axisLabel:{formatter:v => xTickLabels[Math.round(v/100)], rotate:20, align:'center', verticalAlign:'middle',
      margin:margin, fontSize:fs, fontFamily:FONT, color:'#000'}};
}
function yAx(gi, max, step, fs, margin, nameSize, nameGap) {
  return {type:'value', gridIndex:gi, min:0, max:max, interval:step,
    axisLine:{show:true, lineStyle:{color:FRAME}}, splitLine:{show:false},
    axisTick:{show:true, length:3, lineStyle:{color:FRAME}},
    axisLabel:{margin:margin, fontSize:fs, fontFamily:FONT, color:'#000'},
    name:'Temperature ( {s|°}{i|C} )', nameLocation:'middle', nameRotate:90, nameGap:nameGap,
    nameTextStyle:{fontFamily:FONT, fontWeight:'bold', fontSize:nameSize, color:'#000',
      rich:{s:{fontFamily:FONT, fontSize:nameSize*0.6, verticalAlign:'top', color:'#000'},
            i:{fontFamily:FONT, fontStyle:'italic', fontWeight:'bold', fontSize:nameSize, color:'#000'}}}};
}
function legendFor(left, top, items, fs, rowPitch) {
  return {orient:'vertical', left:left, top:top, data:items, selectedMode:false,
    itemWidth:21, itemHeight:8, itemGap:rowPitch - (fs + 2), padding:[3,5,3,2],
    textStyle:{fontFamily:FONT, fontSize:fs, lineHeight:fs+2, color:'#000'},
    backgroundColor:'#fff', borderColor:'#c8c8c8', borderWidth:1, borderRadius:3,
    shadowColor:'rgba(0,0,0,0.3)', shadowOffsetX:2, shadowOffsetY:2, shadowBlur:0};
}
const chart = echarts.init(document.getElementById('chart'), null, {renderer:'canvas'});
chart.setOption({
  animation:false,
  graphic:[
    {type:'line', shape:{x1:722, y1:11.5, x2:1311, y2:11.5}, style:{stroke:'#d6d6d6', lineWidth:1}, silent:true}
  ],
  grid:[
    {left:57, top:16, width:512, height:251, show:true, borderColor:FRAME, borderWidth:1},
    {left:57, top:374, width:512, height:250, show:true, borderColor:FRAME, borderWidth:1},
    {left:733, top:18, width:571, height:278, show:true, borderColor:FRAME, borderWidth:1}
  ],
  xAxis:[xAx(0,11,18), xAx(1,11,18), xAx(2,12,21)],
  yAxis:[yAx(0,16,2,11,13,13,31), yAx(1,16,2,11,13,13,31), yAx(2,25,5,12,11,14,35)],
  legend:[
    legendFor(61, 20, [{name:'HRGN-adj(10%)', itemStyle:{opacity:0}}, 'obs(not for adjustment)', 'obs(for adjustment)'], 9, 13.5),
    legendFor(61, 378, [{name:'HRGN-adj(20%)', itemStyle:{opacity:0}}, {name:'obs(not for adjustment) ', icon:'circle'}, {name:'obs(for adjustment) ', icon:'circle'}], 9, 13.5),
    legendFor(738, 23, ['sim', {name:'HRGN-adj(pre-trained)', itemStyle:{opacity:0}}, {name:'HRGN-adj(fine-tuned 0.5%)', itemStyle:{opacity:0}}, 'obs'], 10, 14.4)
  ],
  series:[
    {name:'HRGN-adj(10%)', type:'line', xAxisIndex:0, yAxisIndex:0, data:aLine, symbol:'none', lineStyle:{color:'#0000ff', width:2}, itemStyle:{color:'#0000ff'}, z:2},
    {name:'obs(not for adjustment)', type:'scatter', xAxisIndex:0, yAxisIndex:0, data:aObs, symbolSize:6, itemStyle:{color:'#000'}, z:3},
    {name:'obs(for adjustment)', type:'scatter', xAxisIndex:0, yAxisIndex:0, data:aAdj, symbolSize:6, itemStyle:{color:'#ff0000'}, z:4},
    {name:'HRGN-adj(20%)', type:'line', xAxisIndex:1, yAxisIndex:1, data:bLine, symbol:'none', lineStyle:{color:'#0000ff', width:2}, itemStyle:{color:'#0000ff'}, z:2},
    {name:'obs(not for adjustment) ', type:'scatter', xAxisIndex:1, yAxisIndex:1, data:bObs, symbolSize:6, itemStyle:{color:'#000'}, z:3},
    {name:'obs(for adjustment) ', type:'scatter', xAxisIndex:1, yAxisIndex:1, data:bAdj, symbolSize:6, itemStyle:{color:'#ff0000'}, z:4},
    {name:'sim', type:'scatter', xAxisIndex:2, yAxisIndex:2, data:cSim, symbolSize:5.5, itemStyle:{color:'#bfbf00'}, z:2},
    {name:'HRGN-adj(pre-trained)', type:'line', xAxisIndex:2, yAxisIndex:2, data:cPre, symbol:'none', lineStyle:{color:'#00bfbf', width:2, type:[7,3]}, itemStyle:{color:'#00bfbf'}, z:3},
    {name:'HRGN-adj(fine-tuned 0.5%)', type:'line', xAxisIndex:2, yAxisIndex:2, data:cFine, symbol:'none', lineStyle:{color:'#0000ff', width:2}, itemStyle:{color:'#0000ff'}, z:4},
    {name:'obs', type:'scatter', xAxisIndex:2, yAxisIndex:2, data:cObs, symbolSize:6, itemStyle:{color:'#000'}, z:5}
  ]
});
</script>
</body></html>
